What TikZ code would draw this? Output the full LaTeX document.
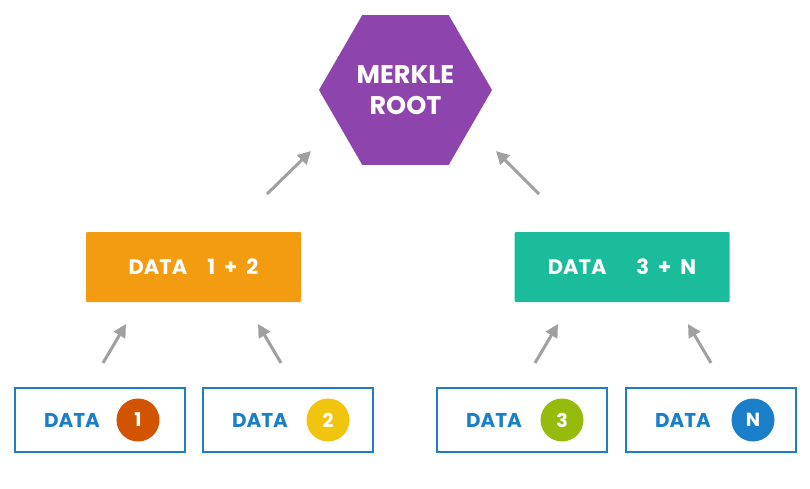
\documentclass[tikz,border=0pt]{standalone}
\usepackage{fontspec}
\setmainfont{Poppins}
\usepackage{tikz}
\usetikzlibrary{arrows.meta, positioning, shapes.geometric, calc}
\usepackage{xcolor}

\definecolor{rootpurple}{HTML}{8E44AD}
\definecolor{pairorange}{HTML}{F39C12}
\definecolor{pairteal}{HTML}{1ABC9C}
\definecolor{leafblue}{HTML}{1A7FC8}
\definecolor{dotred}{HTML}{D35400}
\definecolor{dotyellow}{HTML}{F1C40F}
\definecolor{dotgreen}{HTML}{97BB0C}
\definecolor{arrowgray}{HTML}{A0A0A0}

\begin{document}
\begin{tikzpicture}[
    x=1pt, y=-1pt,
    >={Triangle[length=13pt,width=13pt]},
    link/.style={line width=3pt, arrowgray, ->},
    pairbox/.style={rectangle, rounded corners=1pt, minimum width=215pt, minimum height=70pt,
                    inner sep=0pt, text=white, font=\fontsize{21}{24}\selectfont\bfseries},
    leafbox/.style={rectangle, draw=leafblue, line width=2.7pt, minimum width=170pt,
                    minimum height=64pt, inner sep=0pt},
    leaftext/.style={text=leafblue, font=\fontsize{20}{24}\selectfont\bfseries},
    leafdot/.style={circle, minimum size=43pt, inner sep=0pt, text=white,
                    font=\fontsize{19}{24}\selectfont\bfseries},
]
\useasboundingbox (0,0) rectangle (810,489);

\def\dx{28}   % shift of the DATA label
\def\dc{40}   % shift of the number dot

% Root
\node[regular polygon, regular polygon sides=6, fill=rootpurple, minimum size=173pt,
      inner sep=0pt, text=white, align=center,
      font=\fontsize{25.5}{31}\selectfont\bfseries] (root) at (405.5,90) {MERKLE\\ROOT};

% Pair hashes
\node[pairbox, fill=pairorange] (pairA) at (193.5,267)
     {DATA\hspace{20pt}1\hspace{9pt}+\hspace{9pt}2};
\node[pairbox, fill=pairteal]   (pairB) at (622,267)
     {DATA\hspace{30pt}3\hspace{9pt}+\hspace{9pt}N};

% Leaves
\node[leafbox] (leafA) at (100,420) {};
\node[leafbox] (leafB) at (288,420) {};
\node[leafbox] (leafC) at (522,420) {};
\node[leafbox] (leafD) at (711,420) {};

\node[leaftext] (txtA) at ($(leafA)+(-\dx,0)$) {DATA};
\node[leaftext] (txtB) at ($(leafB)+(-\dx,0)$) {DATA};
\node[leaftext] (txtC) at ($(leafC)+(-\dx,0)$) {DATA};
\node[leaftext] (txtD) at ($(leafD)+(-\dx,0)$) {DATA};

\node[leafdot, fill=dotred]    (dotA) at ($(leafA)+(\dc-2,0)$) {1};
\node[leafdot, fill=dotyellow] (dotB) at ($(leafB)+(\dc,0)$)   {2};
\node[leafdot, fill=dotgreen]  (dotC) at ($(leafC)+(\dc,0)$)   {3};
\node[leafdot, fill=leafblue]  (dotD) at ($(leafD)+(\dc+2,0)$) {N};

% Arrow ends
\coordinate (upAs) at (267,194); \coordinate (upAe) at (311,151);
\coordinate (upBs) at (539,194); \coordinate (upBe) at (496,151);
\coordinate (lfAs) at (103,363); \coordinate (lfAe) at (126,324);
\coordinate (lfBs) at (281,363); \coordinate (lfBe) at (258,324);
\coordinate (lfCs) at (535,363); \coordinate (lfCe) at (558,324);
\coordinate (lfDs) at (711,363); \coordinate (lfDe) at (688,324);

% Arrows
\draw[link] (upAs) -- (upAe);
\draw[link] (upBs) -- (upBe);
\draw[link] (lfAs) -- (lfAe);
\draw[link] (lfBs) -- (lfBe);
\draw[link] (lfCs) -- (lfCe);
\draw[link] (lfDs) -- (lfDe);

\end{tikzpicture}
\end{document}
